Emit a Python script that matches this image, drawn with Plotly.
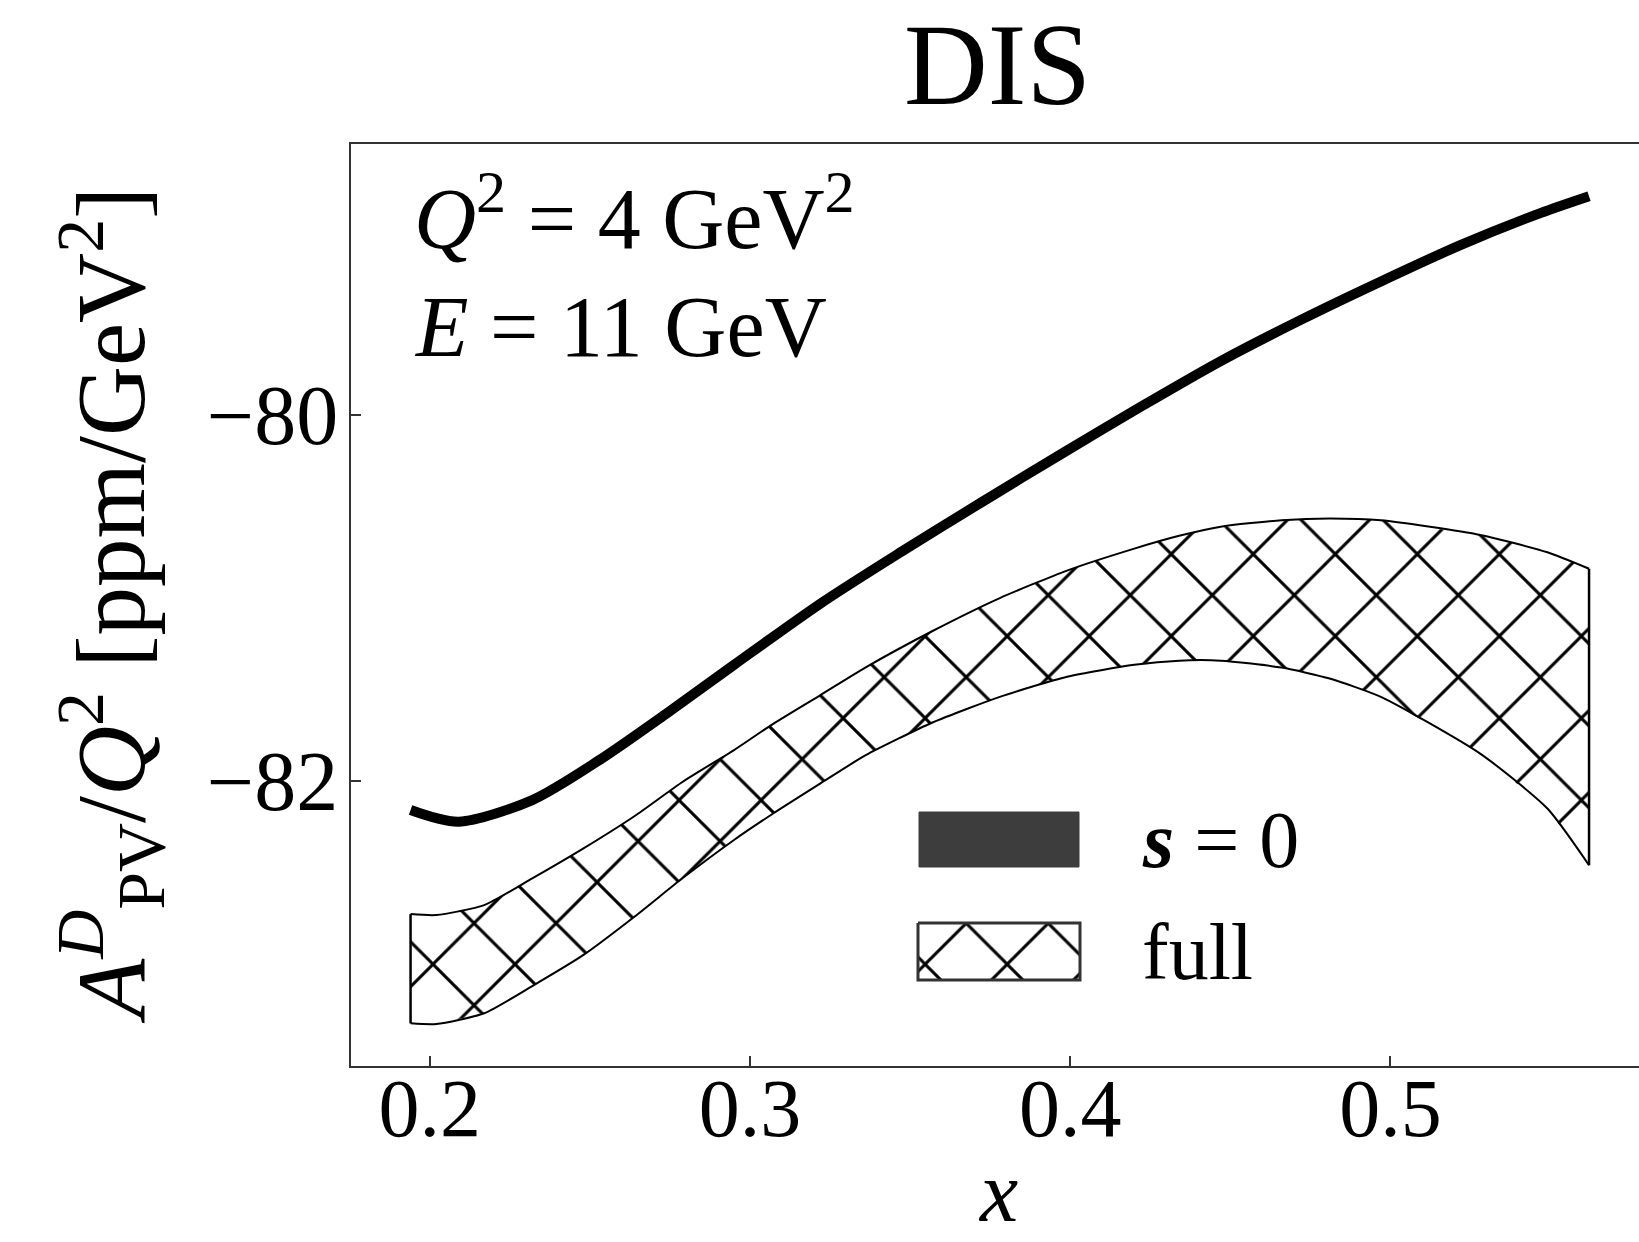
import plotly.graph_objects as go

# ---- data ----
x_line = [0.194, 0.209, 0.232, 0.253, 0.274, 0.295, 0.322, 0.347, 0.372, 0.397,
          0.422, 0.447, 0.472, 0.497, 0.522, 0.547, 0.562]
y_line = [-82.158, -82.222, -82.104, -81.885, -81.630, -81.365, -81.030, -80.750,
          -80.480, -80.215, -79.955, -79.705, -79.480, -79.270, -79.070, -78.895, -78.804]

x_band = [0.194, 0.202, 0.217, 0.232, 0.248, 0.264, 0.279, 0.295, 0.307, 0.322,
          0.336, 0.357, 0.378, 0.399, 0.420, 0.434, 0.447, 0.466, 0.481, 0.497,
          0.528, 0.549, 0.562]
band_upper = [-82.727, -82.732, -82.678, -82.532, -82.368, -82.191, -82.004, -81.831,
              -81.690, -81.530, -81.380, -81.180, -81.000, -80.850, -80.730, -80.660,
              -80.610, -80.575, -80.565, -80.575, -80.655, -80.750, -80.840]
band_lower = [-83.324, -83.328, -83.269, -83.120, -82.950, -82.740, -82.530, -82.322,
              -82.180, -82.013, -81.860, -81.680, -81.540, -81.430, -81.365, -81.342,
              -81.342, -81.380, -81.440, -81.540, -81.850, -82.150, -82.460]

x_ticks = [0.2, 0.3, 0.4, 0.5]
x_ticklabels = ["0.2", "0.3", "0.4", "0.5"]
y_ticks = [-82, -80]
y_ticklabels = ["\u221282", "\u221280"]

legend_labels = ["<b><i>s</i></b> = 0", "full"]

# ---- layout geometry (pixels) ----
W, H = 1639, 1242
L, R, T, B = 351, 0, 144, 176
PW, PH = W - L - R, H - T - B
FONT = "Liberation Serif, Times New Roman, serif"


def px(xp):
    return (xp - L) / PW


def py(yp):
    return (H - B - yp) / PH


HATCH = dict(shape="x", size=58, solidity=0.1, fgcolor="black", fgopacity=1,
             bgcolor="white")

fig = go.Figure()

# hatched band ("full") - fill only
fig.add_trace(go.Scatter(
    x=x_band + x_band[::-1] + [x_band[0]],
    y=band_upper + band_lower[::-1] + [band_upper[0]],
    mode="lines", fill="toself",
    line=dict(color="rgba(0,0,0,0)", width=0),
    fillcolor="white", fillpattern=HATCH,
    showlegend=False, hoverinfo="skip",
))
# band outline
for ys in (band_upper, band_lower):
    fig.add_trace(go.Scatter(
        x=x_band, y=ys, mode="lines",
        line=dict(color="black", width=2, shape="spline", smoothing=0.6),
        showlegend=False, hoverinfo="skip",
    ))
for i in (0, -1):
    fig.add_trace(go.Scatter(
        x=[x_band[i], x_band[i]], y=[band_upper[i], band_lower[i]], mode="lines",
        line=dict(color="black", width=2.5),
        showlegend=False, hoverinfo="skip",
    ))

# s = 0 line
fig.add_trace(go.Scatter(
    x=x_line, y=y_line, mode="lines",
    line=dict(color="black", width=10, shape="spline", smoothing=0.8),
    showlegend=False,
))

# legend keys on an overlay axis in pixel units
rects = [(919, 812, 1079, 867), (918, 923, 1080, 980)]
r0 = rects[0]
fig.add_trace(go.Scatter(
    x=[r0[0], r0[2], r0[2], r0[0], r0[0]], y=[r0[1], r0[1], r0[3], r0[3], r0[1]],
    xaxis="x2", yaxis="y2", mode="lines", fill="toself",
    line=dict(color="#3d3d3d", width=1), fillcolor="#3d3d3d",
    showlegend=False, hoverinfo="skip",
))
r1 = rects[1]
fig.add_trace(go.Scatter(
    x=[r1[0], r1[2], r1[2], r1[0], r1[0]], y=[r1[1], r1[1], r1[3], r1[3], r1[1]],
    xaxis="x2", yaxis="y2", mode="lines", fill="toself",
    line=dict(color="#333333", width=3), fillcolor="white", fillpattern=HATCH,
    showlegend=False, hoverinfo="skip",
))

axis_common = dict(
    showline=True, linecolor="#333333", linewidth=2,
    ticks="inside", ticklen=10, tickwidth=2, tickcolor="#333333",
    showgrid=False, zeroline=False,
)

fig.update_layout(
    width=W, height=H,
    margin=dict(l=L, r=R, t=T, b=B, pad=0),
    paper_bgcolor="white", plot_bgcolor="white",
    xaxis=dict(range=[0.1754, 0.5776], tickvals=x_ticks, ticktext=x_ticklabels,
               mirror=True, ticklabelstandoff=-30,
               tickfont=dict(family=FONT, size=82, color="black"), **axis_common),
    yaxis=dict(range=[-83.557, -78.519], tickvals=y_ticks, ticktext=y_ticklabels,
               ticklabelstandoff=-6,
               tickfont=dict(family=FONT, size=84, color="black"), **axis_common),
    xaxis2=dict(range=[L, W], overlaying="x", visible=False),
    yaxis2=dict(range=[H - B, T], overlaying="y", visible=False),
    showlegend=False,
)


def note(text, xp, yp, size, xanchor="center", angle=0):
    return dict(text=text, x=px(xp), y=py(yp), xref="paper", yref="paper",
                xanchor=xanchor, yanchor="middle", textangle=angle, showarrow=False,
                font=dict(family=FONT, size=size, color="black"))


ann = [
    note("DIS", 997, 65, 116),
    note("<i>x</i>", 998, 1192, 86),
    note("<i>A</i><sup><i>D</i></sup><sub>PV</sub>/<i>Q</i><sup>2</sup> [ppm/GeV<sup>2</sup>]",
         110, 606, 97, angle=-90),
    note("<i>Q</i><sup>2</sup> = 4 GeV<sup>2</sup>", 412, 212, 86, xanchor="left"),
    note("<i>E</i> = 11 GeV", 412, 327, 86, xanchor="left"),
    note(legend_labels[0], 1140, 840, 80, xanchor="left"),
    note(legend_labels[1], 1140, 952, 80, xanchor="left"),
]

fig.update_layout(annotations=ann)
fig.write_html("out.html")
